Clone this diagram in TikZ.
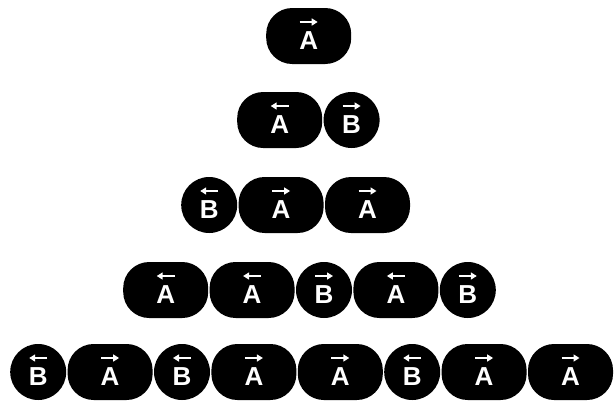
\documentclass[tikz,border=0pt]{standalone}
\usepackage{fontspec}
\setmainfont{Liberation Sans}
\usetikzlibrary{positioning,arrows.meta}

\begin{document}
\begin{tikzpicture}[x=1pt, y=-1pt,
    pill/.style={rectangle, fill=black, rounded corners=26pt, minimum width=85pt, minimum height=56pt,
        inner sep=0pt, text=white, font=\fontsize{26}{26}\selectfont\bfseries, text height=27pt, text depth=0pt},
    ball/.style={pill, circle, minimum size=56pt},
    vec/.style={white, line width=2.2pt, -{Triangle[length=6pt, width=7pt]}}]

    \useasboundingbox (0,0) rectangle (616,400);

    % row 1
    \node[pill, anchor=west] (r1a) at (266,36) {A};

    % row 2
    \node[pill, anchor=west] (r2a) at (237,120) {A};
    \node[ball, right=1pt of r2a] (r2b) {B};

    % row 3
    \node[ball, anchor=west] (r3a) at (181,205) {B};
    \node[pill, right=1pt of r3a] (r3b) {A};
    \node[pill, right=1pt of r3b] (r3c) {A};

    % row 4
    \node[pill, anchor=west] (r4a) at (123,290) {A};
    \node[pill, right=1pt of r4a] (r4b) {A};
    \node[ball, right=1pt of r4b] (r4c) {B};
    \node[pill, right=1pt of r4c] (r4d) {A};
    \node[ball, right=1pt of r4d] (r4e) {B};

    % row 5
    \node[ball, anchor=west] (r5a) at (10,372) {B};
    \node[pill, right=1pt of r5a] (r5b) {A};
    \node[ball, right=1pt of r5b] (r5c) {B};
    \node[pill, right=1pt of r5c] (r5d) {A};
    \node[pill, right=1pt of r5d] (r5e) {A};
    \node[ball, right=1pt of r5e] (r5f) {B};
    \node[pill, right=1pt of r5f] (r5g) {A};
    \node[pill, right=1pt of r5g] (r5h) {A};

    % arrows over the letters (1 = right, -1 = left)
    \foreach \n/\d in {r1a/1, r2a/-1, r2b/1, r3a/-1, r3b/1, r3c/1,
                       r4a/-1, r4b/-1, r4c/1, r4d/-1, r4e/1,
                       r5a/-1, r5b/1, r5c/-1, r5d/1, r5e/1, r5f/-1, r5g/1, r5h/1}
        \draw[vec] ([xshift=-\d*9pt, yshift=14pt]\n.center) -- ([xshift=\d*9pt, yshift=14pt]\n.center);
\end{tikzpicture}
\end{document}
